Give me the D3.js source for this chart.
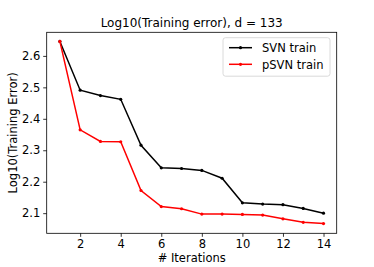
<!DOCTYPE html>
<html lang="en">
<head>
  <meta charset="UTF-8">
  <title>Log10 Training error</title>
  <script src="https://d3js.org/d3.v7.min.js"></script>
  <style>
    body { margin: 0; background: #fff; }
    svg text { font-family: "DejaVu Sans", sans-serif; fill: #000; }
  </style>
</head>
<body>
  <svg width="374" height="267"></svg>
  <script>
    // data
    const iterations = [1, 2, 3, 4, 5, 6, 7, 8, 9, 10, 11, 12, 13, 14];
    const svnTrain  = [2.646, 2.491, 2.474, 2.462, 2.316, 2.244, 2.242, 2.236, 2.211, 2.133, 2.129, 2.127, 2.115, 2.100];
    const psvnTrain = [2.646, 2.365, 2.328, 2.327, 2.172, 2.121, 2.114, 2.097, 2.097, 2.096, 2.094, 2.082, 2.071, 2.067];
    const xTicks = [2, 4, 6, 8, 10, 12, 14];
    const yTicks = [2.1, 2.2, 2.3, 2.4, 2.5, 2.6];
    const seriesNames = ["SVN train", "pSVN train"];
    const seriesColors = ["#000000", "#ff0000"];

    const svg = d3.select("svg");
    const plot = { left: 46.7, right: 336.7, top: 32.3, bottom: 233.3 };

    const x = d3.scaleLinear().domain([0.35, 14.65]).range([plot.left, plot.right]);
    const y = d3.scaleLinear().domain([2.036, 2.675]).range([plot.bottom, plot.top]);

    // axes
    const xAxis = svg.append("g")
        .attr("transform", `translate(0,${plot.bottom})`)
        .call(d3.axisBottom(x).tickValues(xTicks).tickSize(3.5).tickPadding(3).tickFormat(d3.format("d")));
    const yAxis = svg.append("g")
        .attr("transform", `translate(${plot.left},0)`)
        .call(d3.axisLeft(y).tickValues(yTicks).tickSize(3.5).tickPadding(3).tickFormat(d3.format(".1f")));
    [xAxis, yAxis].forEach(a => {
      a.select(".domain").remove();
      a.selectAll("text").style("font-size", "11.5px");
      a.selectAll("line").attr("stroke", "#000").attr("stroke-width", 0.8);
    });

    // frame
    svg.append("rect")
        .attr("x", plot.left).attr("y", plot.top)
        .attr("width", plot.right - plot.left).attr("height", plot.bottom - plot.top)
        .attr("fill", "none").attr("stroke", "#000").attr("stroke-width", 0.8);

    // series
    const series = [svnTrain, psvnTrain];
    const line = d3.line().x((d, i) => x(iterations[i])).y(d => y(d));
    series.forEach((vals, k) => {
      svg.append("path")
          .datum(vals)
          .attr("d", line)
          .attr("fill", "none")
          .attr("stroke", seriesColors[k])
          .attr("stroke-width", 1.5);
      svg.append("g").selectAll("circle")
          .data(vals)
          .enter().append("circle")
          .attr("cx", (d, i) => x(iterations[i]))
          .attr("cy", d => y(d))
          .attr("r", 1.6)
          .attr("fill", seriesColors[k]);
    });

    // title and labels
    svg.append("text")
        .attr("x", (plot.left + plot.right) / 2).attr("y", 27)
        .attr("text-anchor", "middle")
        .style("font-size", "12px")
        .text("Log10(Training error), d = 133");
    svg.append("text")
        .attr("x", (plot.left + plot.right) / 2).attr("y", 262)
        .attr("text-anchor", "middle")
        .style("font-size", "11.5px")
        .text("# Iterations");
    svg.append("text")
        .attr("transform", `translate(17,${(plot.top + plot.bottom) / 2}) rotate(-90)`)
        .attr("text-anchor", "middle")
        .style("font-size", "11.5px")
        .text("Log10(Training Error)");

    // legend
    const lg = svg.append("g");
    lg.append("rect")
        .attr("x", 223).attr("y", 37.7).attr("width", 107).attr("height", 38.5)
        .attr("rx", 2.5)
        .attr("fill", "#fff").attr("fill-opacity", 0.8)
        .attr("stroke", "#d0d0d0").attr("stroke-width", 0.8);
    seriesNames.forEach((name, k) => {
      const ly = 47.7 + k * 16.6;
      lg.append("line")
          .attr("x1", 229).attr("x2", 252).attr("y1", ly).attr("y2", ly)
          .attr("stroke", seriesColors[k]).attr("stroke-width", 1.5);
      lg.append("circle")
          .attr("cx", 240.5).attr("cy", ly).attr("r", 1.6)
          .attr("fill", seriesColors[k]);
      lg.append("text")
          .attr("x", 262).attr("y", ly + 4.2)
          .style("font-size", "11.5px")
          .text(name);
    });
  </script>
</body>
</html>
